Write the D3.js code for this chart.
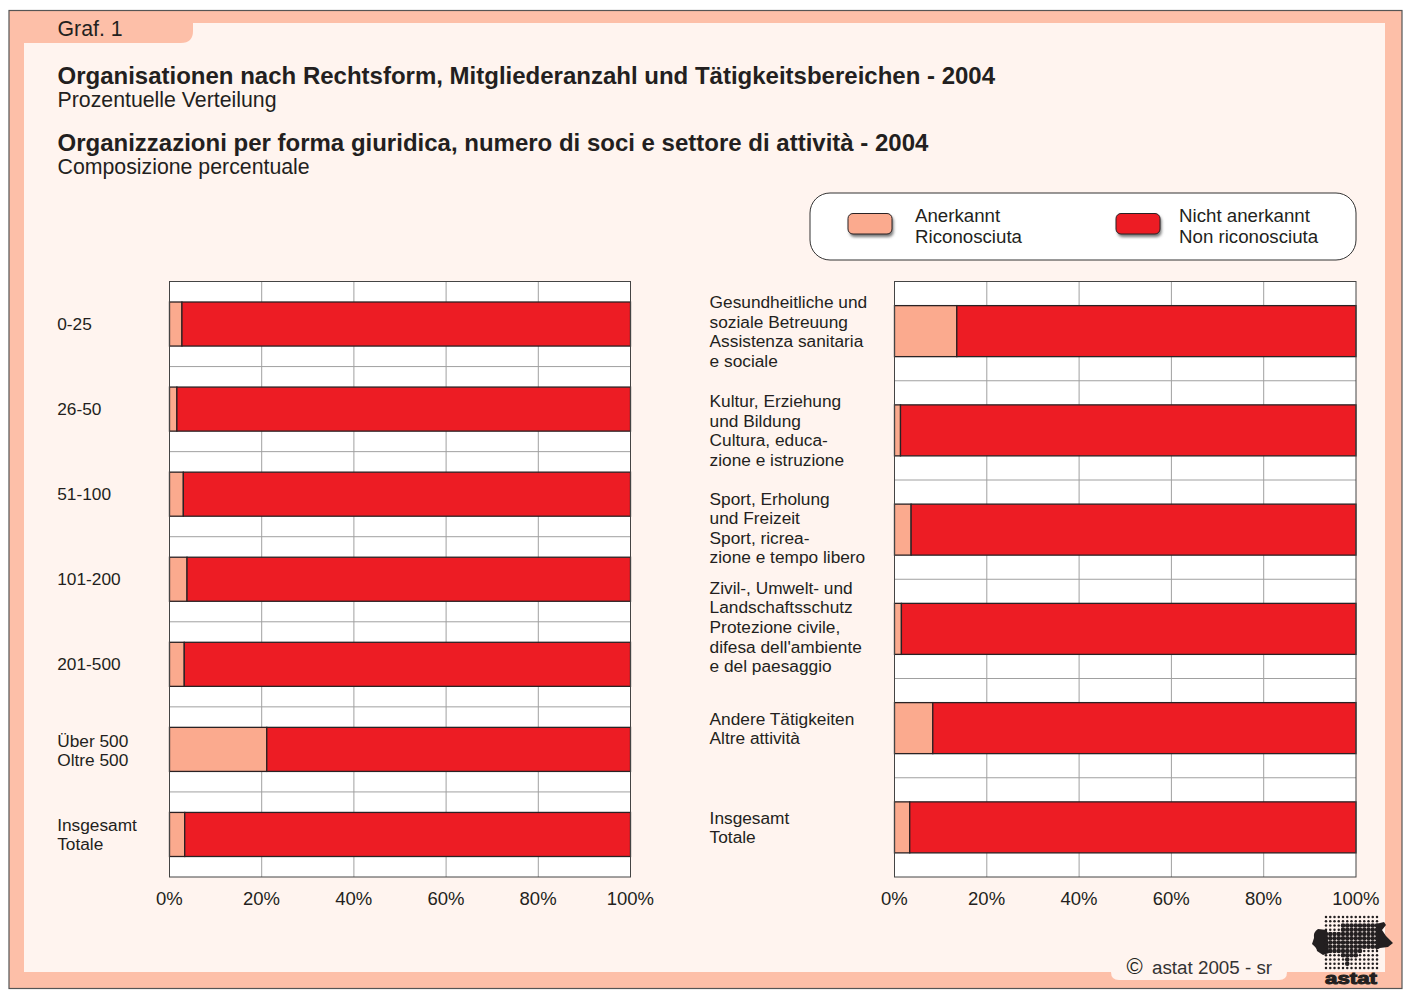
<!DOCTYPE html>
<html lang="de">
<head>
  <meta charset="utf-8">
  <title>Graf. 1</title>
  <script src="https://cdn.jsdelivr.net/npm/d3@7"></script>
  <style>
    body { margin: 0; background: #fff; }
    svg { display: block; }
    text { font-family: "Liberation Sans", Arial, sans-serif; fill: #231f20; }
    .grid { stroke: #a0a0a0; stroke-width: 1px; }
    .bar { stroke: #2a2224; stroke-width: 1.3px; }
  </style>
</head>
<body>
  <div id="chart"></div>

  <script>
    // left panel: members
    const sizeLabels = [["0-25"], ["26-50"], ["51-100"], ["101-200"], ["201-500"], ["Über 500", "Oltre 500"], ["Insgesamt", "Totale"]];
    const sizeRecognized = [2.7, 1.6, 3.0, 3.8, 3.2, 21.1, 3.3];
    const sizeNotRecognized = [97.3, 98.4, 97.0, 96.2, 96.8, 78.9, 96.7];

    // right panel: fields of activity
    const fieldLabels = [
      ["Gesundheitliche und", "soziale Betreuung", "Assistenza sanitaria", "e sociale"],
      ["Kultur, Erziehung", "und Bildung", "Cultura, educa-", "zione e istruzione"],
      ["Sport, Erholung", "und Freizeit", "Sport, ricrea-", "zione e tempo libero"],
      ["Zivil-, Umwelt- und", "Landschaftsschutz", "Protezione civile,", "difesa dell'ambiente", "e del paesaggio"],
      ["Andere Tätigkeiten", "Altre attività"],
      ["Insgesamt", "Totale"]
    ];
    const fieldRecognized = [13.5, 1.3, 3.6, 1.5, 8.3, 3.3];
    const fieldNotRecognized = [86.5, 98.7, 96.4, 98.5, 91.7, 96.7];

    const ticks = [0, 20, 40, 60, 80, 100];
    const legendLabels = [["Anerkannt", "Riconosciuta"], ["Nicht anerkannt", "Non riconosciuta"]];

    const peach = "#fdbfa8", paper = "#fff4ef", light = "#fbaa8e", red = "#ed1c24", ink = "#231f20";

    const svg = d3.select("#chart").append("svg").attr("width", 1405).attr("height", 994);

    // frame
    svg.append("rect").attr("x", 9).attr("y", 10.5).attr("width", 1393).attr("height", 978)
      .attr("fill", peach).attr("stroke", "#555").attr("stroke-width", 1.2);
    svg.append("path").attr("fill", paper)
      .attr("d", "M24 43H181Q193 43 193 31V23H1385V972H24Z");

    // copyright tab
    svg.append("path").attr("fill", paper)
      .attr("d", "M1111 965H1287V972Q1287 980 1279 980H1119Q1111 980 1111 972Z");

    const addText = (x, y, str, size, weight) => svg.append("text")
      .attr("x", x).attr("y", y).attr("font-size", size).attr("font-weight", weight || "normal").text(str);

    addText(57.5, 35.5, "Graf. 1", 21.3);
    addText(57.5, 84, "Organisationen nach Rechtsform, Mitgliederanzahl und Tätigkeitsbereichen - 2004", 24, "bold");
    addText(57.5, 107, "Prozentuelle Verteilung", 21.3);
    addText(57.5, 151, "Organizzazioni per forma giuridica, numero di soci e settore di attività - 2004", 24, "bold");
    addText(57.5, 174, "Composizione percentuale", 21.3);

    // legend
    svg.append("rect").attr("x", 810).attr("y", 193).attr("width", 546).attr("height", 67).attr("rx", 20)
      .attr("fill", "#fff").attr("stroke", "#333").attr("stroke-width", 1);
    const defs = svg.append("defs");
    defs.append("filter").attr("id", "soft").append("feGaussianBlur").attr("stdDeviation", 1.5);
    [[848, light, 915], [1116, red, 1179]].forEach((d, i) => {
      svg.append("rect").attr("x", d[0] + 1.5).attr("y", 216).attr("width", 44).attr("height", 21).attr("rx", 5)
        .attr("fill", "#777").attr("filter", "url(#soft)");
      svg.append("rect").attr("x", d[0]).attr("y", 213.5).attr("width", 44).attr("height", 20.5).attr("rx", 5)
        .attr("fill", d[1]).attr("stroke", "#2a2224").attr("stroke-width", 1);
      addText(d[2], 222, legendLabels[i][0], 18.7);
      addText(d[2], 243, legendLabels[i][1], 18.7);
    });

    function panel(cfg) {
      const x = d3.scaleLinear().domain([0, 100]).range([cfg.x0, cfg.x1]);
      const y = d3.scaleBand().domain(d3.range(cfg.labels.length))
        .range([281.5, 877]).paddingInner(cfg.pad).paddingOuter(cfg.pad / 2);
      const g = svg.append("g");

      g.append("rect").attr("x", cfg.x0).attr("y", 281.5).attr("width", cfg.x1 - cfg.x0).attr("height", 595.5)
        .attr("fill", "#fff");

      // gridlines
      g.selectAll(".vgrid").data(ticks.slice(1, -1)).enter().append("line")
        .attr("class", "grid")
        .attr("x1", d => x(d)).attr("x2", d => x(d)).attr("y1", 281.5).attr("y2", 877);
      g.selectAll(".hgrid").data(d3.range(1, cfg.labels.length)).enter().append("line")
        .attr("class", "grid")
        .attr("x1", cfg.x0).attr("x2", cfg.x1)
        .attr("y1", d => y(d) - y.step() * cfg.pad / 2).attr("y2", d => y(d) - y.step() * cfg.pad / 2);

      // bars
      g.selectAll(".a").data(cfg.recognized).enter().append("rect")
        .attr("class", "bar").attr("fill", light)
        .attr("x", x(0)).attr("y", (d, i) => y(i))
        .attr("width", d => x(d) - x(0)).attr("height", y.bandwidth());
      g.selectAll(".b").data(cfg.notRecognized).enter().append("rect")
        .attr("class", "bar").attr("fill", red)
        .attr("x", (d, i) => x(cfg.recognized[i])).attr("y", (d, i) => y(i))
        .attr("width", d => x(100) - x(100 - d)).attr("height", y.bandwidth());

      // plot border
      g.append("rect").attr("x", cfg.x0).attr("y", 281.5).attr("width", cfg.x1 - cfg.x0).attr("height", 595.5)
        .attr("fill", "none").attr("stroke", "#444").attr("stroke-width", 1);

      // x axis
      const axis = d3.axisBottom(x).tickValues(ticks).tickSize(0).tickPadding(15).tickFormat(d => d + "%");
      const ax = g.append("g").attr("transform", "translate(-0.7,877)").call(axis);
      ax.select(".domain").remove();
      ax.selectAll("text").attr("font-size", 18.5).attr("font-family", '"Liberation Sans", Arial, sans-serif').attr("fill", ink);

      // category labels
      cfg.labels.forEach((lines, i) => {
        const mid = cfg.labelY[i];
        lines.forEach((line, k) => {
          g.append("text").attr("x", cfg.labelX).attr("font-size", cfg.labelSize)
            .attr("y", mid + (k - (lines.length - 1) / 2) * cfg.lineH + 5.5).text(line);
        });
      });
    }

    panel({
      x0: 169.5, x1: 630.5, labels: sizeLabels, recognized: sizeRecognized, notRecognized: sizeNotRecognized,
      pad: 0.482, labelX: 57.2, labelSize: 17.3, lineH: 19.6,
      labelY: [324, 409, 494, 579, 664, 751, 835]
    });
    panel({
      x0: 894.5, x1: 1356, labels: fieldLabels, recognized: fieldRecognized, notRecognized: fieldNotRecognized,
      pad: 0.486, labelX: 709.6, labelSize: 17.3, lineH: 19.6,
      labelY: [332, 431, 528.5, 627.5, 729, 828]
    });

    // copyright
    addText(1134.5, 974, "©", 22).attr("text-anchor", "middle");
    addText(1152, 974, "astat 2005 - sr", 18.8).style("fill", "#333");

    // astat logo: region blobs at the sides, dots grow inside the region
    const logoRegion = [[1326, 933], [1340, 933], [1342, 924], [1378, 924], [1378, 949], [1362, 951], [1358, 958], [1351, 959], [1350, 965], [1345, 965], [1344, 957], [1336, 953], [1326, 953]];
    const logo = svg.append("g").attr("fill", ink);
    logo.append("path")
      .attr("d", "M1327 930L1318 929Q1313 932 1314 938L1312 944Q1317 948 1317 951L1323 955L1329 953Z");
    logo.append("path")
      .attr("d", "M1376 924L1384 922L1386 925L1382 930L1386 936L1393 943L1388 947L1380 948L1376 950Z");
    d3.range(917, 969, 4.25).forEach(yy => d3.range(1326, 1379, 4.25).forEach(xx => {
      logo.append("circle").attr("cx", xx).attr("cy", yy)
        .attr("r", d3.polygonContains(logoRegion, [xx, yy]) ? 2.3 : 1.25);
    }));
    logo.append("text").attr("x", 1325).attr("y", 984).attr("font-size", 17).attr("font-weight", "bold")
      .attr("textLength", 52).attr("lengthAdjust", "spacingAndGlyphs")
      .attr("stroke", ink).attr("stroke-width", 1).text("astat");
  </script>
</body>
</html>
